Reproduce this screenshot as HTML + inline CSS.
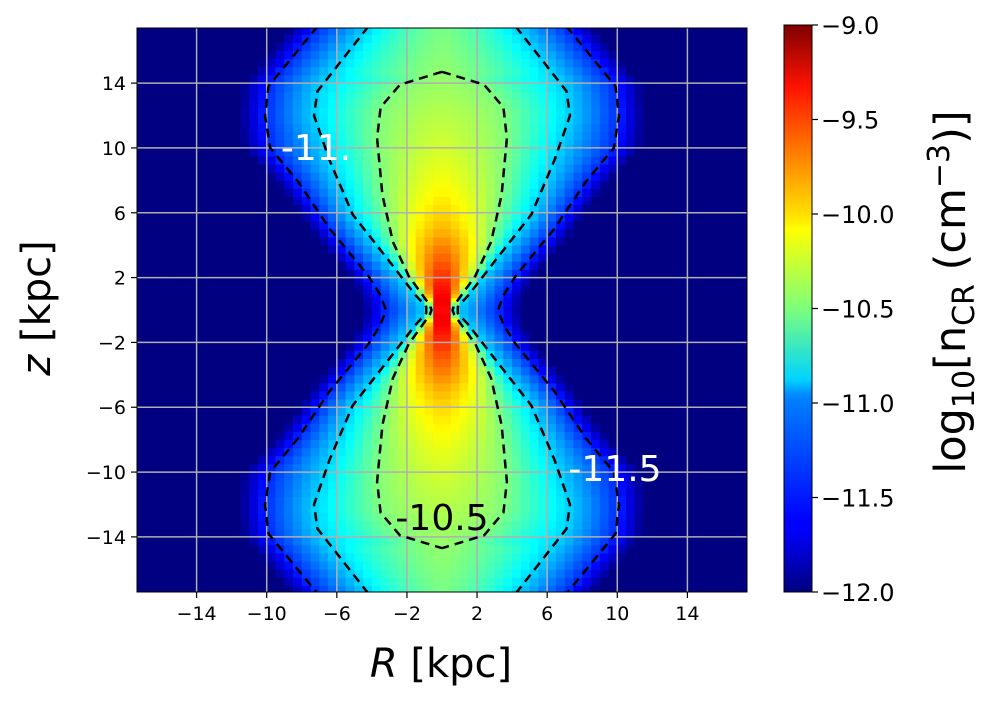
<!DOCTYPE html>
<html><head><meta charset="utf-8"><style>
body{margin:0;background:#fff;width:995px;height:702px;overflow:hidden;font-family:"DejaVu Sans","Liberation Sans",sans-serif}
svg{display:block}
</style></head><body>
<svg id="chart" width="995" height="702" viewBox="0 0 995 702" xmlns="http://www.w3.org/2000/svg">
<defs><clipPath id="pc"><rect x="137" y="28" width="610" height="564"/></clipPath>
<linearGradient id="jet" x1="0" y1="1" x2="0" y2="0">
<stop offset="0" stop-color="#00007f"/><stop offset="0.11" stop-color="#0000ff"/><stop offset="0.125" stop-color="#0000ff"/><stop offset="0.34" stop-color="#0080ff"/><stop offset="0.35" stop-color="#0090ff"/><stop offset="0.375" stop-color="#00d4ff"/><stop offset="0.5" stop-color="#7dff7a"/><stop offset="0.64" stop-color="#ffff00"/><stop offset="0.66" stop-color="#ffe600"/><stop offset="0.89" stop-color="#ff1300"/><stop offset="1" stop-color="#7f0000"/></linearGradient></defs>
<g id="heat" clip-path="url(#pc)"></g>
<g id="grid" clip-path="url(#pc)"></g>
<g id="contours" clip-path="url(#pc)"></g>
<rect x="137" y="28" width="610" height="564" fill="none" stroke="#000" stroke-width="1"/>
<g id="axes"></g>
<text x="316" y="160" font-size="36" fill="#fff" text-anchor="middle">-11.</text>
<text x="615" y="481" font-size="36" fill="#fff" text-anchor="middle">-11.5</text>
<text x="442" y="530" font-size="36" fill="#000" text-anchor="middle">-10.5</text>
<text x="441" y="677" font-size="40" text-anchor="middle"><tspan font-style="italic">R</tspan> [kpc]</text>
<text transform="translate(50,308) rotate(-90)" font-size="40" text-anchor="middle"><tspan font-style="italic">z</tspan> [kpc]</text>
<rect x="784" y="25" width="28" height="567" fill="url(#jet)" stroke="#000" stroke-width="1"/>
<g id="cbar"></g>
<text transform="translate(965,292) rotate(-90)" font-size="43" text-anchor="middle">log<tspan font-size="30" dy="9">10</tspan><tspan dy="-9">[n</tspan><tspan font-size="30" dy="9">CR</tspan><tspan dy="-9"> (cm</tspan><tspan font-size="30" dy="-16">−3</tspan><tspan dy="16">)]</tspan></text>
</svg>
<script>
// ---- data ----
const ticksX = [-14,-10,-6,-2,2,6,10,14];
const ticksY = [-14,-10,-6,-2,2,6,10,14];
const cbarTicks = [-12,-11.5,-11,-10.5,-10,-9.5,-9];
const centerZ   = [0,   0.5,  1,   2,   3,   4,    5,    6,    7,    8,    10,    12,    14,    17.5];
const centerVal = [-9.0,-9.1,-9.25,-9.45,-9.6,-9.75,-9.9,-10.0,-10.08,-10.15,-10.25,-10.33,-10.42,-10.52];
const lvl105Z = [0,   0.3, 2.1, 4.2, 7.1, 10.6, 12.5, 13.9, 14.7];
const lvl105W = [0.6, 0.7, 1.9, 2.8, 3.4, 3.7,  3.5,  2.4,  0];
const lvl11Z  = [0,   0.2, 0.9, 3.0, 5.9, 9.2, 12.0, 13.5, 17.5];
const lvl11W  = [0.9, 0.9, 1.5, 3.0, 5.1, 6.4, 7.3,  7.1,  4.2];
const lvl115Z = [0,   0.9, 2.1, 5.0, 7.9, 10.0, 12.0, 13.8, 17.5];
const lvl115W = [3.2, 3.5, 4.2, 6.4, 8.2, 9.8,  10.1, 9.9,  7.1];
const levels = [-10.5, -11, -11.5];
// ---- scales ----
const X0=137,X1=747,Y0=28,Y1=592, RMIN=-17.4,RMAX=17.4,ZMIN=-17.4,ZMAX=17.4;
const sx=r=>X0+(r-RMIN)/(RMAX-RMIN)*(X1-X0);
const sy=z=>Y1-(z-ZMIN)/(ZMAX-ZMIN)*(Y1-Y0);
const cy=v=>592-(v+12)/3*567;
const NS='http://www.w3.org/2000/svg';
function mk(t,a,p){const e=document.createElementNS(NS,t);for(const k in a)e.setAttribute(k,a[k]);p.appendChild(e);return e;}
function interp(xs,ys,x){if(x<=xs[0])return ys[0];for(let i=1;i<xs.length;i++){if(x<=xs[i]){const t=(x-xs[i-1])/(xs[i]-xs[i-1]);return ys[i-1]+t*(ys[i]-ys[i-1]);}}return ys[ys.length-1];}
function jet(v){let t=Math.max(0,Math.min(1,(v+12)/3));
 const f=(x)=>Math.max(0,Math.min(1,x));
 const r=f(Math.min(4*t-1.5,-4*t+4.5)),g=f(Math.min(4*t-0.5,-4*t+3.5)),b=f(Math.min(4*t+0.5,-4*t+2.5));
 return `rgb(${Math.round(r*255)},${Math.round(g*255)},${Math.round(b*255)})`;}
function value(R,z){const a=Math.abs(z),r=Math.abs(R);const c=interp(centerZ,centerVal,a);
 const pts=[[0,c]];
 if(a<=lvl105Z[lvl105Z.length-1]) pts.push([interp(lvl105Z,lvl105W,a),-10.5]);
 const w11=interp(lvl11Z,lvl11W,a),w115=interp(lvl115Z,lvl115W,a);
 pts.push([w11,-11]);pts.push([w115,-11.5]);pts.push([w115+(w115-w11)*0.4+0.4,-12]);
 for(let i=1;i<pts.length;i++){if(r<=pts[i][0]){let t=(r-pts[i-1][0])/Math.max(1e-6,pts[i][0]-pts[i-1][0]);if(i===1)t=t*t*0.6+t*0.4;return pts[i-1][1]+t*(pts[i][1]-pts[i-1][1]);}}
 return -12;}
// ---- heatmap ----
const heat=document.getElementById('heat');
const zEdges=[];for(let z=-17.5;z<17.51;z+=(Math.abs(z)<2?0.25:0.5))zEdges.push(+z.toFixed(3));
for(let j=0;j<zEdges.length-1;j++){const za=zEdges[j],zb=zEdges[j+1];
 for(let R=-17.5;R<17.5;R+=0.5){const v=value(R+0.25,(za+zb)/2);
  const x=sx(R),y=sy(zb);
  const e=mk('rect',{x:x.toFixed(2),y:y.toFixed(2),width:(sx(R+0.5)-x+0.4).toFixed(2),height:(sy(za)-y+0.4).toFixed(2),fill:jet(v)},heat);
  
  }}
// ---- grid & axes ----
const grid=document.getElementById('grid'),axes=document.getElementById('axes');
ticksX.forEach(t=>{const l=mk('line',{x1:sx(t),x2:sx(t),y1:Y0,y2:Y1,stroke:'#b0b0b0','stroke-width':1.5},grid);
 
 mk('line',{x1:sx(t),x2:sx(t),y1:Y1,y2:Y1+6,stroke:'#000','stroke-width':1.2},axes);
 const tx=mk('text',{x:sx(t),y:Y1+28,'font-size':19,'text-anchor':'middle'},axes);tx.textContent=String(t).replace('-','−');
 });
ticksY.forEach(t=>{const l=mk('line',{x1:X0,x2:X1,y1:sy(t),y2:sy(t),stroke:'#b0b0b0','stroke-width':1.5},grid);
 
 mk('line',{x1:X0-6,x2:X0,y1:sy(t),y2:sy(t),stroke:'#000','stroke-width':1.2},axes);
 const tx=mk('text',{x:X0-11,y:sy(t)+7,'font-size':19,'text-anchor':'end'},axes);tx.textContent=String(t).replace('-','−');
 });
// ---- contours ----
const cont=document.getElementById('contours');
[[lvl105Z,lvl105W],[lvl11Z,lvl11W],[lvl115Z,lvl115W]].forEach((L,i)=>{
 const [zs,ws]=L;const side=s=>{const p=[];for(let k=zs.length-1;k>=0;k--)p.push([s*ws[k],zs[k]]);for(let k=1;k<zs.length;k++)p.push([s*ws[k],-zs[k]]);return p;};
 [side(-1),side(1)].forEach(p=>{const d='M'+p.map(q=>sx(q[0]).toFixed(1)+','+sy(q[1]).toFixed(1)).join(' L');
  const e=mk('path',{d:d,fill:'none',stroke:'#000','stroke-width':2.5,'stroke-dasharray':'9,6','stroke-linejoin':'round'},cont);
  
  });});
// ---- colorbar ----
const cb=document.getElementById('cbar');
cbarTicks.forEach(t=>{mk('line',{x1:812,x2:818,y1:cy(t),y2:cy(t),stroke:'#000','stroke-width':1.2},cb);
 const tx=mk('text',{x:821,y:cy(t)+9,'font-size':24},cb);tx.textContent='−'+Math.abs(t).toFixed(1);
 });
</script>
</body></html>
